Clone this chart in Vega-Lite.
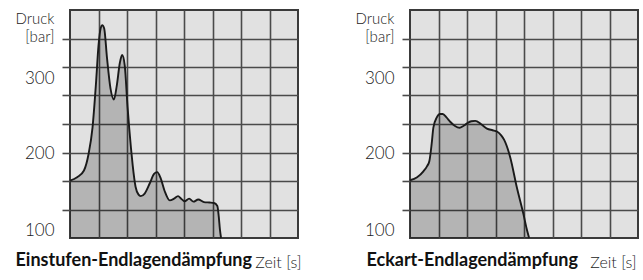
{
  "$schema": "https://vega.github.io/schema/vega-lite/v6.json",
  "padding": {"left": 14, "top": 9, "right": 4, "bottom": 4},
  "spacing": 52,
  "config": {
    "font": "Lato",
    "view": {"fill": "#e1e1e1", "stroke": "#3a3a3a", "strokeWidth": 2},
    "title": {"font": "Lato", "fontSize": 18, "fontWeight": "bold", "color": "#111111", "orient": "bottom", "anchor": "end"}
  },
  "hconcat": [
    {
      "width": 228,
      "height": 228,
      "title": {"text": "Einstufen-Endlagendämpfung", "dx": -49, "offset": -18},
      "data": {"values": [
        {"t": 0, "p": 167}, {"t": 0.25, "p": 171}, {"t": 0.49, "p": 179}, {"t": 0.65, "p": 198},
        {"t": 0.79, "p": 229}, {"t": 0.91, "p": 280}, {"t": 1.0, "p": 325}, {"t": 1.08, "p": 346},
        {"t": 1.13, "p": 349}, {"t": 1.2, "p": 345}, {"t": 1.3, "p": 310}, {"t": 1.42, "p": 275},
        {"t": 1.54, "p": 262}, {"t": 1.64, "p": 278}, {"t": 1.75, "p": 305}, {"t": 1.83, "p": 314},
        {"t": 1.92, "p": 302}, {"t": 2.02, "p": 253}, {"t": 2.14, "p": 205}, {"t": 2.2, "p": 185},
        {"t": 2.3, "p": 160}, {"t": 2.4, "p": 151}, {"t": 2.48, "p": 149}, {"t": 2.62, "p": 152},
        {"t": 2.8, "p": 164}, {"t": 2.95, "p": 175}, {"t": 3.06, "p": 177}, {"t": 3.18, "p": 170},
        {"t": 3.32, "p": 155}, {"t": 3.5, "p": 144}, {"t": 3.65, "p": 146}, {"t": 3.79, "p": 149},
        {"t": 3.9, "p": 146}, {"t": 4.02, "p": 143}, {"t": 4.18, "p": 146}, {"t": 4.33, "p": 142.5},
        {"t": 4.5, "p": 145}, {"t": 4.7, "p": 142}, {"t": 4.9, "p": 141.5}, {"t": 5.05, "p": 141},
        {"t": 5.17, "p": 137.5}, {"t": 5.22, "p": 125}, {"t": 5.26, "p": 110}, {"t": 5.3, "p": 100}
      ]},
      "layer": [
        {
          "mark": {"type": "area", "color": "#000000", "opacity": 0.2, "interpolate": "monotone"},
          "encoding": {
            "x": {"field": "t", "type": "quantitative", "scale": {"domain": [0, 8], "nice": false},
              "axis": {"values": [1, 2, 3, 4, 5, 6, 7], "grid": true, "gridColor": "#4a4a4a", "gridWidth": 1.6, "gridOpacity": 1, "labels": false, "ticks": false, "domain": false, "title": "Zeit [s]", "titleX": 231, "titleAlign": "right", "titleFont": "Lato", "titleFontWeight": 300, "titleFontSize": 16, "titleColor": "#222222", "titlePadding": 16}},
            "y": {"field": "p", "type": "quantitative", "scale": {"domain": [100, 366.667], "nice": false, "zero": false},
              "axis": {"orient": "left", "values": [133.333, 166.667, 200, 233.333, 266.667, 300, 333.333], "grid": true, "gridColor": "#4a4a4a", "gridWidth": 1.6, "gridOpacity": 1, "ticks": true, "tickSize": 8, "tickColor": "#4a4a4a", "tickWidth": 1.6, "labels": false, "domain": false, "title": ["Druck", "[bar]"], "titleAngle": 0, "titleAlign": "right", "titleBaseline": "top", "titleX": -16, "titleY": 1, "titleFont": "Lato", "titleFontSize": 15, "titleFontWeight": 300, "titleColor": "#222222", "titleLineHeight": 18}},
            "y2": {"datum": 100}
          }
        },
        {
          "mark": {"type": "line", "color": "#1a1a1a", "strokeWidth": 1.9, "interpolate": "monotone"},
          "encoding": {
            "x": {"field": "t", "type": "quantitative",
              "axis": {"values": [1, 2, 3, 4, 5, 6, 7], "grid": true, "gridColor": "#4a4a4a", "gridWidth": 1.6, "gridOpacity": 1, "labels": false, "ticks": false, "domain": false, "title": "Zeit [s]", "titleX": 231, "titleAlign": "right", "titleFont": "Lato", "titleFontWeight": 300, "titleFontSize": 16, "titleColor": "#222222", "titlePadding": 16}},
            "y": {"field": "p", "type": "quantitative",
              "axis": {"orient": "left", "values": [108.5, 198.3, 286], "labelExpr": "datum.value < 150 ? '100' : datum.value < 250 ? '200' : '300'", "ticks": false, "tickSize": 0, "grid": false, "domain": false, "labelPadding": 16, "labelFont": "Lato", "labelFontWeight": 300, "labelFontSize": 17, "labelColor": "#222222", "title": null}}
          }
        }
      ],
      "resolve": {"axis": {"y": "independent"}}
    },
    {
      "width": 228,
      "height": 228,
      "title": {"text": "Eckart-Endlagendämpfung", "dx": -60, "offset": -18},
      "data": {"values": [
        {"t": 0, "p": 167.5}, {"t": 0.25, "p": 171}, {"t": 0.47, "p": 178}, {"t": 0.6, "p": 184},
        {"t": 0.68, "p": 190}, {"t": 0.76, "p": 210}, {"t": 0.82, "p": 229}, {"t": 0.94, "p": 241},
        {"t": 1.05, "p": 245}, {"t": 1.15, "p": 245}, {"t": 1.28, "p": 241}, {"t": 1.41, "p": 236},
        {"t": 1.58, "p": 231}, {"t": 1.74, "p": 229}, {"t": 1.87, "p": 231}, {"t": 2.0, "p": 234},
        {"t": 2.15, "p": 236.5}, {"t": 2.29, "p": 237}, {"t": 2.5, "p": 233}, {"t": 2.7, "p": 228},
        {"t": 2.9, "p": 226}, {"t": 3.05, "p": 224.5}, {"t": 3.2, "p": 220}, {"t": 3.3, "p": 215},
        {"t": 3.52, "p": 194}, {"t": 3.75, "p": 159}, {"t": 3.98, "p": 128}, {"t": 4.1, "p": 110},
        {"t": 4.18, "p": 100}
      ]},
      "layer": [
        {
          "mark": {"type": "area", "color": "#000000", "opacity": 0.2, "interpolate": "monotone"},
          "encoding": {
            "x": {"field": "t", "type": "quantitative", "scale": {"domain": [0, 8], "nice": false},
              "axis": {"values": [1, 2, 3, 4, 5, 6, 7], "grid": true, "gridColor": "#4a4a4a", "gridWidth": 1.6, "gridOpacity": 1, "labels": false, "ticks": false, "domain": false, "title": "Zeit [s]", "titleX": 226, "titleAlign": "right", "titleFont": "Lato", "titleFontWeight": 300, "titleFontSize": 16, "titleColor": "#222222", "titlePadding": 16}},
            "y": {"field": "p", "type": "quantitative", "scale": {"domain": [100, 366.667], "nice": false, "zero": false},
              "axis": {"orient": "left", "values": [133.333, 166.667, 200, 233.333, 266.667, 300, 333.333], "grid": true, "gridColor": "#4a4a4a", "gridWidth": 1.6, "gridOpacity": 1, "ticks": true, "tickSize": 8, "tickColor": "#4a4a4a", "tickWidth": 1.6, "labels": false, "domain": false, "title": ["Druck", "[bar]"], "titleAngle": 0, "titleAlign": "right", "titleBaseline": "top", "titleX": -16, "titleY": 1, "titleFont": "Lato", "titleFontSize": 15, "titleFontWeight": 300, "titleColor": "#222222", "titleLineHeight": 18}},
            "y2": {"datum": 100}
          }
        },
        {
          "mark": {"type": "line", "color": "#1a1a1a", "strokeWidth": 1.9, "interpolate": "monotone"},
          "encoding": {
            "x": {"field": "t", "type": "quantitative",
              "axis": {"values": [1, 2, 3, 4, 5, 6, 7], "grid": true, "gridColor": "#4a4a4a", "gridWidth": 1.6, "gridOpacity": 1, "labels": false, "ticks": false, "domain": false, "title": "Zeit [s]", "titleX": 226, "titleAlign": "right", "titleFont": "Lato", "titleFontWeight": 300, "titleFontSize": 16, "titleColor": "#222222", "titlePadding": 16}},
            "y": {"field": "p", "type": "quantitative",
              "axis": {"orient": "left", "values": [108.5, 198.3, 286], "labelExpr": "datum.value < 150 ? '100' : datum.value < 250 ? '200' : '300'", "ticks": false, "tickSize": 0, "grid": false, "domain": false, "labelPadding": 16, "labelFont": "Lato", "labelFontWeight": 300, "labelFontSize": 17, "labelColor": "#222222", "title": null}}
          }
        }
      ],
      "resolve": {"axis": {"y": "independent"}}
    }
  ]
}
